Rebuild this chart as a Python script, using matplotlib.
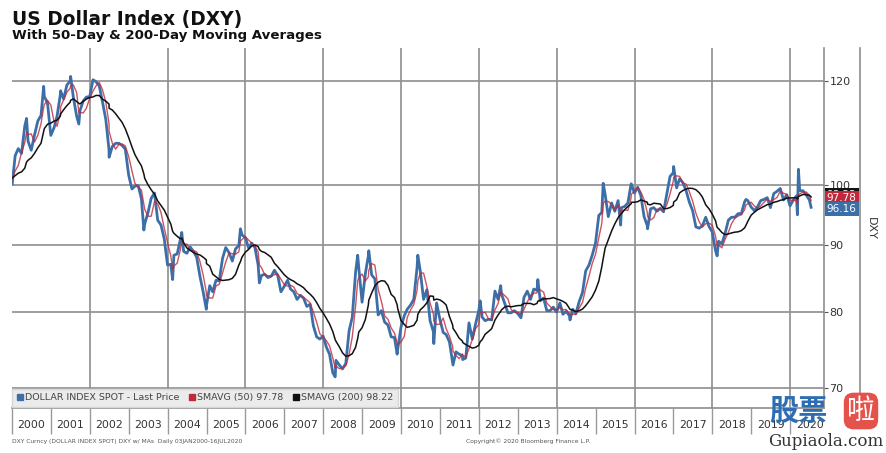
import numpy as np
import pandas as pd
import matplotlib
matplotlib.use("Agg")
import matplotlib.pyplot as plt
from matplotlib.lines import Line2D

# month-end closes of the DXY, Jan 2000 .. Jun 2020
dxy_close = [
    105.3, 106.6, 105.7, 110.9, 108.0, 106.3, 109.2, 111.9, 113.0, 116.8, 115.5, 109.1,  # 2000
    110.6, 112.9, 117.3, 116.3, 119.2, 120.0, 116.6, 112.8, 113.9, 115.9, 116.7, 116.8,  # 2001
    120.3, 119.9, 119.0, 115.7, 112.2, 106.4, 107.0, 107.6, 107.6, 107.2, 106.5, 101.8,  # 2002
    99.3, 99.8, 99.9, 97.6, 93.4, 95.2, 97.7, 98.6, 94.0, 93.2, 91.0, 86.9,              # 2003
    87.0, 88.4, 88.6, 90.9, 89.0, 88.7, 89.7, 89.0, 88.1, 85.2, 82.9, 80.9,              # 2004
    83.8, 82.9, 84.6, 84.5, 87.9, 89.6, 88.8, 87.5, 89.4, 89.9, 91.6, 91.2,              # 2005
    89.5, 90.3, 89.6, 86.9, 85.3, 85.5, 85.0, 85.2, 86.1, 85.3, 82.9, 83.7,              # 2006
    84.6, 83.3, 82.9, 81.8, 82.4, 82.0, 80.8, 81.1, 78.1, 76.6, 76.3, 76.7,              # 2007
    75.2, 74.3, 71.9, 73.5, 72.9, 72.4, 73.1, 77.4, 79.3, 85.8, 86.5, 81.4,              # 2008
    85.6, 88.3, 85.4, 84.8, 79.6, 80.2, 78.6, 78.2, 76.6, 76.5, 74.9, 77.9,              # 2009
    79.5, 80.4, 81.0, 81.8, 86.5, 86.0, 81.8, 83.2, 78.8, 77.3, 81.3, 79.0,              # 2010
    77.2, 76.9, 75.9, 73.1, 74.6, 74.3, 74.1, 73.8, 78.5, 76.3, 78.3, 80.2,              # 2011
    79.3, 78.8, 79.0, 78.9, 83.0, 81.8, 82.6, 81.2, 79.9, 79.9, 80.2, 79.8,              # 2012
    79.2, 82.1, 83.0, 81.8, 83.3, 83.1, 81.6, 82.0, 80.2, 80.2, 80.7, 80.0,              # 2013
    81.3, 79.7, 80.1, 79.5, 80.4, 79.8, 81.5, 82.8, 86.0, 86.9, 88.4, 90.3,              # 2014
    94.8, 95.3, 98.4, 94.6, 96.9, 95.5, 97.3, 96.1, 96.3, 96.9, 100.2, 98.6,             # 2015
    99.6, 98.2, 94.6, 93.1, 95.9, 96.1, 95.5, 96.0, 95.4, 98.4, 101.5, 102.2,            # 2016
    99.5, 101.1, 100.4, 99.0, 97.0, 95.6, 92.9, 92.7, 93.1, 94.5, 93.0, 92.1,            # 2017
    89.1, 90.6, 90.2, 91.8, 94.0, 94.5, 94.5, 95.1, 95.1, 97.1, 97.3, 96.2,              # 2018
    95.6, 96.2, 97.3, 97.5, 97.8, 96.1, 98.5, 98.9, 99.4, 97.4, 98.3, 96.4,              # 2019
    97.4, 98.1, 99.0, 99.0, 98.3, 97.4,                                                  # 2020
]

# intra-month highs / lows visible on the chart
extreme_dates = ['2000-01-03', '2000-05-17', '2000-10-25', '2001-04-02', '2001-07-05',
                 '2001-09-20', '2002-07-01', '2003-05-23', '2004-02-17', '2004-05-13',
                 '2004-12-30', '2005-11-15', '2006-05-12', '2008-04-22', '2008-11-20',
                 '2009-03-04', '2009-11-25', '2010-06-07', '2010-11-04', '2011-05-03',
                 '2011-08-02', '2012-01-13', '2012-07-24', '2013-07-08', '2014-05-06',
                 '2015-03-13', '2015-08-24', '2015-12-02', '2016-05-03', '2017-01-03',
                 '2018-02-15', '2018-11-12', '2020-03-09', '2020-03-19', '2020-07-16']
extreme_values = [100.2, 112.4, 118.9, 118.0, 121.0,
                  111.3, 105.0, 92.4, 84.7, 92.0,
                  80.4, 92.6, 84.2, 71.4, 88.4,
                  89.1, 74.3, 88.4, 75.7, 72.9,
                  73.6, 81.6, 83.8, 84.7, 78.9,
                  100.3, 93.2, 100.2, 92.6, 103.3,
                  88.3, 97.5, 94.9, 102.8, 96.16]

# 1999 month-ends (Mar..Dec), only used to warm up the moving averages
warmup_close = [100.6, 101.9, 103.1, 103.6, 100.1, 100.9, 99.2, 99.6, 102.6, 101.9]

year_labels = [str(y) for y in range(2000, 2021)]
y_ticks = [70, 80, 90, 100, 120]
legend_labels = ['DOLLAR INDEX SPOT - Last Price', 'SMAVG (50) 97.78', 'SMAVG (200) 98.22']
last_price, last_sma50, last_sma200 = 96.16, 97.78, 98.22

BLUE = '#3c6fa8'
RED = '#c0283c'
GRID = '#8e8e8e'

s = pd.concat([
    pd.Series(warmup_close, index=pd.date_range('1999-03-31', periods=len(warmup_close), freq='ME')),
    pd.Series(dxy_close, index=pd.date_range('2000-01-31', periods=len(dxy_close), freq='ME')),
    pd.Series(extreme_values, index=pd.to_datetime(extreme_dates)),
]).sort_index()

sma50 = s.rolling('72D').mean()
sma200 = s.rolling('290D').mean()


def dec_year(idx):
    return idx.year + (idx.dayofyear - 1) / (365 + idx.is_leap_year.astype(int))


show = s.index >= '2000-01-03'
x = dec_year(s.index[show])

fig = plt.figure(figsize=(8.87, 4.53), dpi=100)
W, H = 887, 453
ax = fig.add_axes([12 / W, 1 - 408 / H, 812 / W, 360 / H])

ax.plot(x, s[show].values, color=BLUE, lw=2.0, zorder=3)
ax.plot(x, sma50[show].values, color=RED, lw=1.0, zorder=4, alpha=0.8)
ax.plot(x, sma200[show].values, color='#111111', lw=1.1, zorder=5)

ax.set_yscale('log')
ax.set_ylim(67.6, 127.2)
ax.set_xlim(2000, 2020.87)

ax.yaxis.tick_right()
ax.set_yticks(y_ticks)
ax.set_yticklabels([str(t) for t in y_ticks])
ax.yaxis.set_minor_locator(matplotlib.ticker.NullLocator())
ax.tick_params(axis='y', which='major', direction='out', length=3, color='#555555',
               labelsize=8, labelcolor='#333333', pad=1)

# bottom year band: boundaries as long ticks, labels centred on each year
ax.set_xticks(np.arange(2000, 2021))
ax.set_xticklabels([])
ax.set_xticks(np.arange(2000, 2021) + 0.5, minor=True)
ax.set_xticklabels(year_labels, minor=True)
ax.tick_params(axis='x', which='major', direction='out', length=19, color='#9a9a9a', width=1)
ax.tick_params(axis='x', which='minor', length=0, labelsize=7.8, labelcolor='#333333', pad=9)

for yr in range(2002, 2021, 2):
    ax.axvline(yr, color=GRID, lw=1.2, zorder=1)
for t in y_ticks:
    ax.axhline(t, color=GRID, lw=1.2, zorder=1)

for side in ['left', 'top']:
    ax.spines[side].set_visible(False)
ax.spines['right'].set_color(GRID)
ax.spines['bottom'].set_color(GRID)
ax.spines['right'].set_linewidth(1.2)
ax.spines['bottom'].set_linewidth(1.2)

handles = [Line2D([], [], marker='s', ls='None', color=c, markersize=5)
           for c in [BLUE, RED, '#111111']]
leg = ax.legend(handles, legend_labels, ncol=3, loc='lower left', bbox_to_anchor=(0.0, 0.004),
                fontsize=6.8, frameon=True, fancybox=False, facecolor='#ebebeb',
                edgecolor='#d6d6d6', framealpha=1, handlelength=0.7, handletextpad=0.2,
                columnspacing=1.0, borderpad=0.45, borderaxespad=0.0)
for t in leg.get_texts():
    t.set_color('#444444')

# value tags on the right edge (stacked, the later ones on top)
tr = matplotlib.transforms.blended_transform_factory(ax.transAxes, ax.transData)
for val, col, dy in [(last_sma200, '#111111', 0.5), (last_sma50, RED, 0), (last_price, BLUE, -1)]:
    ax.annotate(f'{val:.2f}', xy=(1.0, val), xycoords=tr, xytext=(2, dy), textcoords='offset points',
                ha='left', va='center', fontsize=7.5, color='white', annotation_clip=False,
                bbox=dict(boxstyle='square,pad=0.18', fc=col, ec='none'), zorder=10)

fig.add_artist(Line2D([860 / W, 860 / W], [1 - 408 / H, 1 - 48 / H], color=GRID, lw=1.2))
fig.text(871 / W, 1 - 228 / H, 'DXY', rotation=270, ha='center', va='center',
         fontsize=8, color='#333333')

fig.text(12 / W, 1 - 19 / H, 'US Dollar Index (DXY)', fontsize=13.4, fontweight='bold',
         color='#111111', va='center', ha='left')
fig.text(12 / W, 1 - 36 / H, 'With 50-Day & 200-Day Moving Averages', fontsize=9.6,
         fontweight='bold', color='#111111', va='center', ha='left')

fig.text(12 / W, 1 - 441 / H, 'DXY Curncy (DOLLAR INDEX SPOT) DXY w/ MAs  Daily 03JAN2000-16JUL2020',
         fontsize=4.3, color='#555555', va='center')
fig.text(466 / W, 1 - 441 / H, 'Copyright\u00a9 2020 Bloomberg Finance L.P.',
         fontsize=4.3, color='#555555', va='center')

# site watermark
fig.text(769 / W, 1 - 411 / H, '股票', fontsize=21, fontweight='bold', color='#2f6db3',
         family=['Noto Sans CJK SC', 'DejaVu Sans'], va='center', ha='left', zorder=20)
fig.text(861 / W, 1 - 411 / H, '啦', fontsize=20, color='white',
         family=['Noto Sans CJK SC', 'DejaVu Sans'], va='center', ha='center', zorder=20,
         bbox=dict(boxstyle='round,pad=0.12,rounding_size=0.35', fc='#e5524b', ec='none'))
fig.text(826 / W, 1 - 442 / H, 'Gupiaola.com', fontsize=12, color='#333333',
         family='DejaVu Serif', va='center', ha='center', zorder=20)

fig.savefig('out.png', dpi=100, facecolor='white')
